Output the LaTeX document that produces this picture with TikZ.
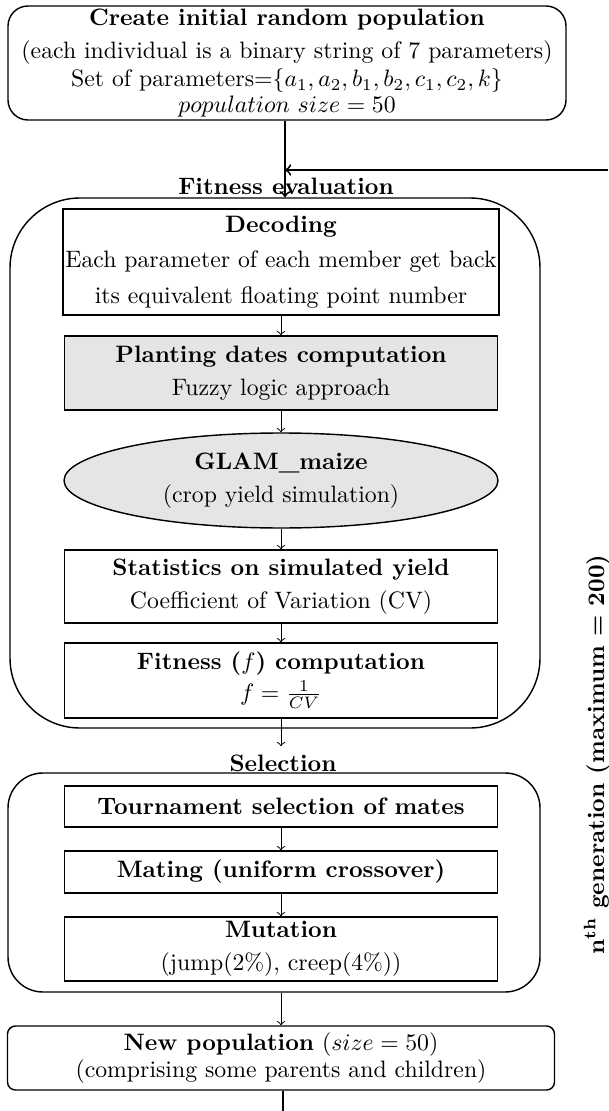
\documentclass[tikz,border=0pt]{standalone}
\usepackage{amsmath, amssymb}
\usetikzlibrary{shapes.geometric}
\def\pxu{0.0148cm}

\begin{document}
\begin{tikzpicture}[x=0.0148cm, y=-0.0148cm, >=to,
    procbox/.style={draw, semithick, rectangle, minimum width=433*\pxu, inner sep=1pt, align=center},
    roundbox/.style={draw, semithick, rectangle, inner sep=0pt},
    flow/.style={->},
    mainflow/.style={->, thick}]
    \useasboundingbox (0,0) rectangle (608,1111);

    % Initial population
    \node[roundbox, rounded corners=20*\pxu, minimum width=558*\pxu, minimum height=114*\pxu, align=center] (popinit) at (287,63)
        {\textbf{Create initial random population}\\[2pt]
         (each individual is a binary string of 7 parameters)\\
         Set of parameters=$\{a_1,a_2,b_1,b_2,c_1,c_2,k\}$\\[-1pt]
         $population\ size=50$};

    % Fitness evaluation block
    \node[roundbox, rounded corners=70*\pxu, minimum width=530*\pxu, minimum height=530*\pxu] (fiteval) at (275,463) {};
    \node[font=\bfseries] (fitlabel) at (286,186) {Fitness evaluation};
    \node[procbox, minimum height=106*\pxu] (decode) at (281,262)
        {\textbf{Decoding}\\[3pt] Each parameter of each member get back\\[3pt] its equivalent floating point number};
    \node[procbox, fill=gray!20, minimum height=74*\pxu] (plant) at (281,373)
        {\textbf{Planting dates computation}\\[2pt] Fuzzy logic approach};
    \node[draw, semithick, ellipse, fill=gray!20, inner sep=0pt, minimum width=434*\pxu, minimum height=95*\pxu, align=center] (glam) at (281,480.5)
        {\textbf{GLAM\_maize}\\[2pt] (crop yield simulation)};
    \node[procbox, minimum height=73*\pxu] (stats) at (281,586.5)
        {\textbf{Statistics on simulated yield}\\[2pt] Coefficient of Variation (CV)};
    \node[procbox, minimum height=75*\pxu] (fitcomp) at (281,680.5)
        {\textbf{Fitness ($f$) computation}\\[1pt] $f=\frac{1}{CV}$};

    % Selection block
    \node[roundbox, rounded corners=35*\pxu, minimum width=532*\pxu, minimum height=219*\pxu] (selbox) at (274,882.5) {};
    \node[font=\bfseries] (sellabel) at (283,763) {Selection};
    \node[procbox, minimum height=41*\pxu] (tourn) at (281,806.5) {\textbf{Tournament selection of mates}};
    \node[procbox, minimum height=42*\pxu] (mating) at (281,872) {\textbf{Mating (uniform crossover)}};
    \node[procbox, minimum height=64*\pxu] (mutation) at (281,949)
        {\textbf{Mutation}\\[2pt] (jump(2\%), creep(4\%))};

    % New population
    \node[roundbox, rounded corners=8*\pxu, minimum width=547*\pxu, minimum height=64*\pxu, align=center] (newpop) at (281,1058)
        {\textbf{New population} ($size=50$)\\[-1pt] (comprising some parents and children)};

    % Generation loop
    \node[rotate=90, anchor=base west, inner sep=0pt, font=\bfseries] (genlabel) at (604,955) {n\textsuperscript{th} generation (maximum = 200)};
    \coordinate (loopin) at (608,170);
    \coordinate (loopout) at (283,1111);

    % Connectors
    \draw[mainflow] (popinit.south -| 285,0) -- (fiteval.north -| 285,0);
    \draw[mainflow] (loopin) -- (loopin -| 285,0);
    \draw[flow] (decode) -- (plant);
    \draw[flow] (plant) -- (glam);
    \draw[flow] (glam) -- (stats);
    \draw[flow] (stats) -- (fitcomp);
    \draw[flow] (fitcomp.south) -- (fitcomp.south |- sellabel.north);
    \draw[flow] (tourn) -- (mating);
    \draw[flow] (mating) -- (mutation);
    \draw[flow] (selbox.south -| mutation.south) -- (newpop.north -| mutation.south);
    \draw[thick] (newpop.south -| loopout) -- (loopout);
\end{tikzpicture}
\end{document}
